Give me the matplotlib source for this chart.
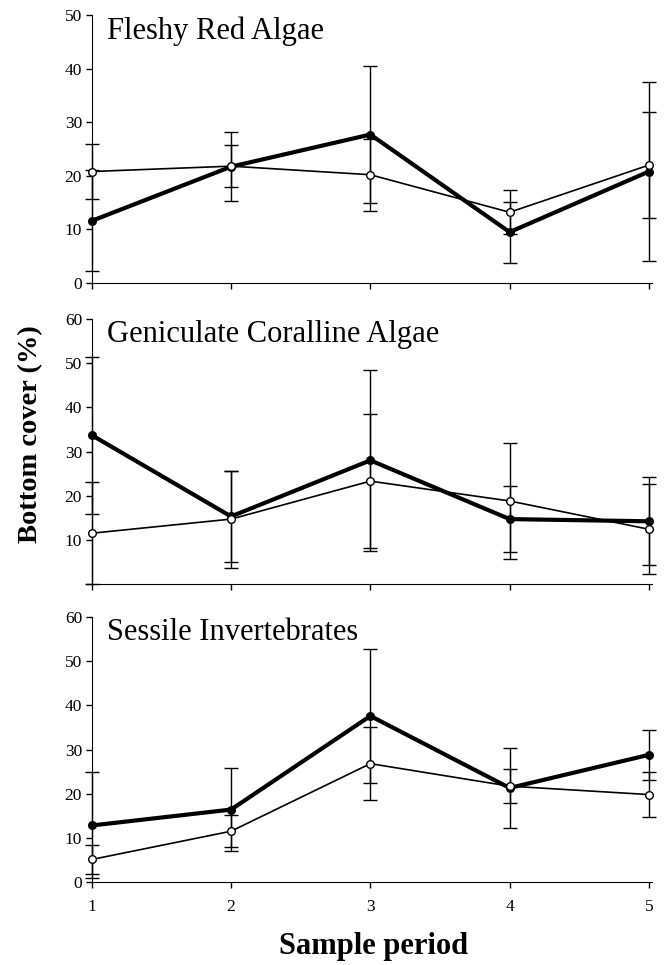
import numpy as np
import matplotlib.pyplot as plt

plt.rcParams['font.family'] = ['Liberation Serif', 'DejaVu Serif']

periods = [1, 2, 3, 4, 5]

titles = ['Fleshy Red Algae', 'Geniculate Coralline Algae', 'Sessile Invertebrates']

# filled (thick) series and its error
filled_vals = [[11.6, 21.7, 27.7, 9.5, 20.8],
               [33.7, 15.3, 28.0, 14.7, 14.2],
               [12.8, 16.4, 37.6, 21.3, 28.8]]
filled_err = [[9.4, 6.4, 12.8, 5.7, 16.7],
              [17.8, 10.3, 20.5, 7.4, 10.0],
              [12.0, 9.4, 15.2, 9.0, 5.7]]

# open (thin) series and its error
open_vals = [[20.8, 21.8, 20.2, 13.2, 22.0],
             [11.5, 14.7, 23.3, 18.8, 12.4],
             [5.1, 11.5, 26.8, 21.7, 19.8]]
open_err = [[5.2, 3.9, 6.7, 4.1, 9.9],
            [11.5, 11.0, 15.2, 13.1, 10.2],
            [3.2, 3.6, 8.2, 3.8, 5.0]]

y_max = [50, 60, 60]
y_ticklabels = [['0', '10', '20', '30', '40', '50'],
                ['', '10', '20', '30', '40', '50', '60'],
                ['0', '10', '20', '30', '40', '50', '60']]

fig = plt.figure(figsize=(6.65, 9.65), dpi=100)

# axes rectangles (left, bottom, width, height) in figure fraction
rects = [(0.138, 0.7067, 0.842, 0.2778),
         (0.138, 0.3948, 0.842, 0.2746),
         (0.138, 0.0860, 0.842, 0.2746)]

for i in range(3):
    ax = fig.add_axes(rects[i])
    ax.errorbar(periods, filled_vals[i], yerr=filled_err[i], color='black',
                lw=3, marker='o', ms=5.5, mfc='black', mec='black',
                ecolor='black', elinewidth=1, capsize=5, capthick=1,
                clip_on=False, zorder=3)
    ax.errorbar(periods, open_vals[i], yerr=open_err[i], color='black',
                lw=1.2, marker='o', ms=5.5, mfc='white', mec='black', mew=1,
                ecolor='black', elinewidth=1, capsize=5, capthick=1,
                clip_on=False, zorder=4)

    ax.set_xlim(1, 5.02)
    ax.set_ylim(0, y_max[i])
    ax.set_yticks(np.arange(0, y_max[i] + 1, 10))
    ax.set_yticklabels(y_ticklabels[i])
    ax.set_xticks(periods)
    if i < 2:
        ax.set_xticklabels([])
    ax.spines['top'].set_visible(False)
    ax.spines['right'].set_visible(False)
    ax.tick_params(axis='both', direction='out', length=4, width=1,
                   labelsize=12.5, pad=3)
    ax.tick_params(axis='x', pad=8)
    ax.text(0.028, 0.995, titles[i], transform=ax.transAxes,
            fontsize=22, ha='left', va='top')

fig.text(0.046, 0.55, 'Bottom cover (%)', rotation=90, fontsize=20.5,
         fontweight='bold', ha='center', va='center')
fig.text(0.562, 0.019, 'Sample period', fontsize=22, fontweight='bold',
         ha='center', va='center')

fig.savefig('out.png', dpi=100)
